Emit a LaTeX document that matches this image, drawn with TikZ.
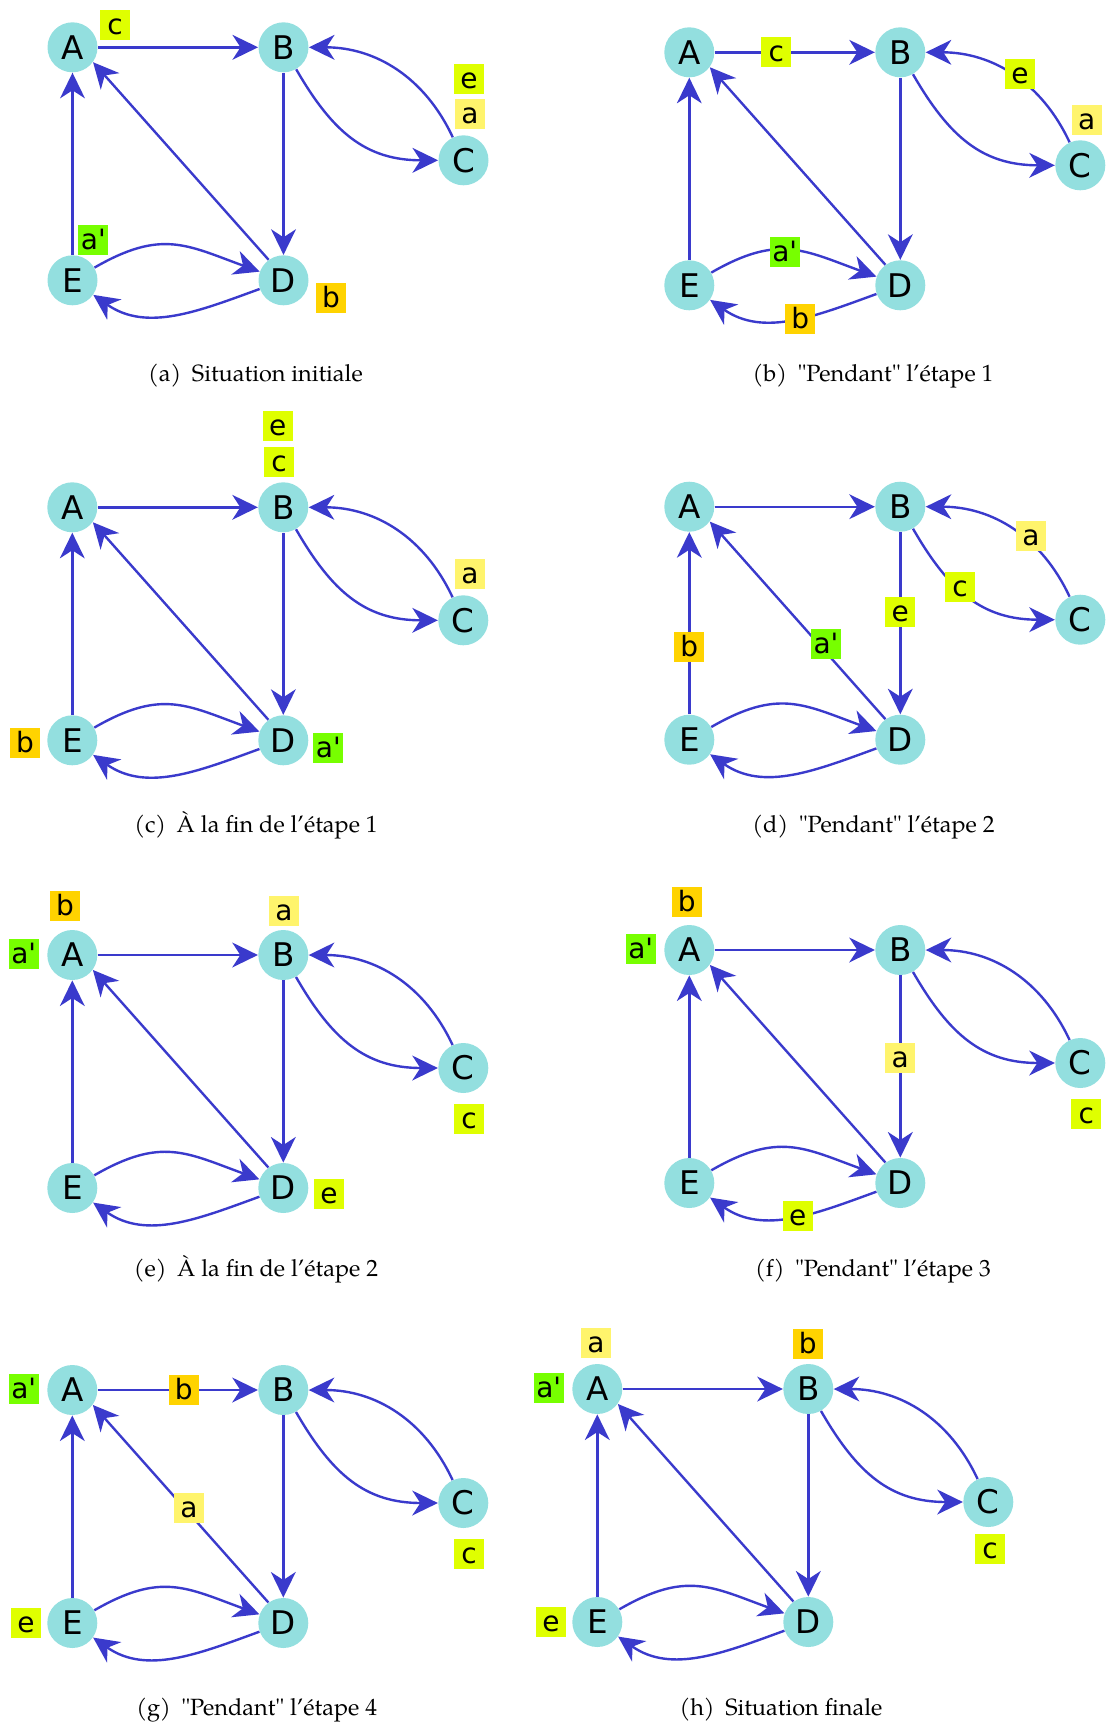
\documentclass[tikz,border=0pt]{standalone}
\usepackage{fontspec}
\newfontfamily\graphfont{DejaVu Sans}
\newfontfamily\legfont{texgyrepagella-regular.otf}
\usetikzlibrary{arrows.meta}
\definecolor{sommetbleu}{HTML}{93DFDF}
\definecolor{arcbleu}{HTML}{3A3ACC}
\definecolor{jauneclair}{HTML}{FFF46C}
\definecolor{jaunevert}{HTML}{DFFF00}
\definecolor{ocre}{HTML}{FFD300}
\definecolor{vertvif}{HTML}{77FF00}
\begin{document}
\begin{tikzpicture}[x=0.5pt,y=-0.5pt,
  sommet/.style={circle,fill=sommetbleu,inner sep=0pt,minimum size=25pt,
    font=\graphfont\fontsize{16.3}{19}\selectfont},
  fleche/.style={draw=arcbleu,line width=1.2pt,
    -{Stealth[length=12.8pt,width=12.4pt,inset=4pt]}},
  etiq/.style={inner sep=0pt,minimum width=15pt,minimum height=15pt,
    text height=12.2pt,text depth=2.8pt,font=\graphfont\fontsize{14}{16}\selectfont},
  etiq a/.style={etiq,fill=jauneclair},
  etiq ap/.style={etiq,fill=vertvif},
  etiq b/.style={etiq,fill=ocre},
  etiq c/.style={etiq,fill=jaunevert},
  etiq e/.style={etiq,fill=jaunevert},
  legende/.style={anchor=base,font=\legfont\fontsize{11.75}{14}\selectfont}]
\useasboundingbox (0,0) rectangle (1105,1726);
\def\graphe{%
  \node[sommet] (A) at (0,0) {A};
  \node[sommet] (B) at (211,0) {B};
  \node[sommet] (C) at (391,113) {C};
  \node[sommet] (D) at (211,233) {D};
  \node[sommet] (E) at (0,233) {E};
  \draw[fleche] (A) -- (B);
  \draw[fleche] (B) -- (D);
  \draw[fleche] (D.126) -- (A.-36);
  \draw[fleche] (E) -- (A);
  \draw[fleche] (B) to[out=-60,in=180,looseness=1.1] (C);
  \draw[fleche] (C) to[out=115,in=0] (B);
  \draw[fleche] (E) to[out=30,in=160,looseness=1.2] (D);
  \draw[fleche] (D) to[out=200,in=-35] (E);
}
\begin{scope}[shift={(72.5,47.3)}]
\graphe
\node[etiq c] (lc) at (42.5,-22.6) {c};
\node[etiq e] (le) at (396.5,31.4) {e};
\node[etiq a] (la) at (397.5,67) {a};
\node[etiq ap] (lap) at (20.8,192.7) {a'};
\node[etiq b] (lb) at (258.5,251) {b};
\end{scope}
\begin{scope}[shift={(689.3,52.3)}]
\graphe
\node[etiq c] (lc) at (87,0) {c};
\node[etiq e] (le) at (330.7,22) {e};
\node[etiq a] (la) at (397.4,67.7) {a};
\node[etiq ap] (lap) at (95.4,199.4) {a'};
\node[etiq b] (lb) at (111,266.7) {b};
\end{scope}
\begin{scope}[shift={(72.3,507.3)}]
\graphe
\node[etiq e] (le) at (205.4,-81.6) {e};
\node[etiq c] (lc) at (206.7,-45.6) {c};
\node[etiq a] (la) at (397.7,67) {a};
\node[etiq b] (lb) at (-47.3,236) {b};
\node[etiq ap] (lap) at (256,240.4) {a'};
\end{scope}
\begin{scope}[shift={(689.3,506.7)}]
\graphe
\node[etiq a] (la) at (341.7,29.3) {a};
\node[etiq c] (lc) at (270.7,80.6) {c};
\node[etiq e] (le) at (211,105) {e};
\node[etiq ap] (lap) at (136.7,137.3) {a'};
\node[etiq b] (lb) at (0,140.6) {b};
\end{scope}
\begin{scope}[shift={(72.3,955)}]
\graphe
\node[etiq b] (lb) at (-7.3,-49) {b};
\node[etiq ap] (lap) at (-48.6,-1) {a'};
\node[etiq a] (la) at (211.7,-44) {a};
\node[etiq c] (lc) at (396.7,164) {c};
\node[etiq e] (le) at (256.7,239) {e};
\end{scope}
\begin{scope}[shift={(689.3,950)}]
\graphe
\node[etiq b] (lb) at (-2.6,-47.7) {b};
\node[etiq ap] (lap) at (-48.6,-0.7) {a'};
\node[etiq a] (la) at (211,108) {a};
\node[etiq c] (lc) at (397,164) {c};
\node[etiq e] (le) at (108.4,266) {e};
\end{scope}
\begin{scope}[shift={(72.3,1390)}]
\graphe
\node[etiq ap] (lap) at (-48.6,-0.7) {a'};
\node[etiq b] (lb) at (111.4,0) {b};
\node[etiq a] (la) at (116.7,118.3) {a};
\node[etiq c] (lc) at (396.7,164) {c};
\node[etiq e] (le) at (-46.3,232.7) {e};
\end{scope}
\begin{scope}[shift={(597.3,1389)}]
\graphe
\node[etiq a] (la) at (-1.3,-45.7) {a};
\node[etiq b] (lb) at (210.4,-44.7) {b};
\node[etiq ap] (lap) at (-48.6,-1.3) {a'};
\node[etiq c] (lc) at (392.7,160) {c};
\node[etiq e] (le) at (-46.3,232.7) {e};
\end{scope}
\foreach \x/\y/\texte [count=\i] in {
  255.5/381/(a)\hskip.45em Situation initiale,
  873/381/(b)\hskip.45em "Pendant" l’étape 1,
  256/832/(c)\hskip.45em À la fin de l’étape 1,
  873.5/832/(d)\hskip.45em "Pendant" l’étape 2,
  256/1276.7/(e)\hskip.45em À la fin de l’étape 2,
  873/1276.7/(f)\hskip.45em "Pendant" l’étape 3,
  256.7/1715/(g)\hskip.45em "Pendant" l’étape 4,
  781/1715/(h)\hskip.45em Situation finale}
  \node[legende] (leg\i) at (\x,\y) {\texte};
\end{tikzpicture}
\end{document}
